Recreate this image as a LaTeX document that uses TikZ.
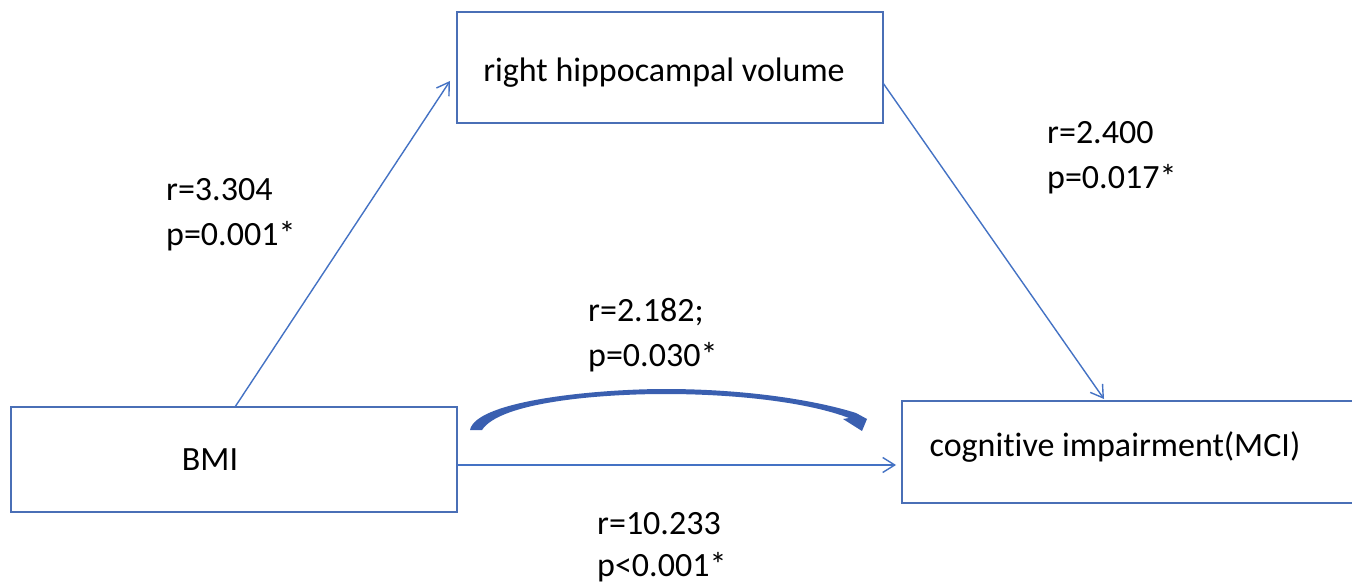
\documentclass[tikz,border=0pt]{standalone}
\usepackage{fontspec}
\setmainfont{Carlito}[Ligatures=NoCommon]
\usetikzlibrary{arrows.meta}
\definecolor{boxblue}{HTML}{4A6FB6}
\definecolor{lineblue}{HTML}{4472C4}
\definecolor{curveblue}{HTML}{3A5FB0}
\begin{document}
\begin{tikzpicture}[x=1pt,y=-1pt,
  box/.style={draw=boxblue, line width=1.9pt, inner sep=0pt},
  conn/.style={draw=lineblue, line width=1.4pt, -{Straight Barb[length=12pt,width=15pt,line width=1.4pt]}},
  stat/.style={font=\fontsize{34}{45}\selectfont, align=left, anchor=north west, inner sep=0pt},
  boxtext/.style={font=\fontsize{34}{40}\selectfont, inner sep=0pt}]
\useasboundingbox (0,0) rectangle (1352,586);
\fill[white] (0,0) rectangle (1352,586);

% the three variables
\node[box, minimum width=446pt, minimum height=105pt] (bmi) at (234,459.5) {};
\node[box, minimum width=426pt, minimum height=111pt] (hip) at (670,67.5) {};
\node[box, minimum width=460pt, minimum height=102pt] (mci) at (1132,452) {};
\node[boxtext] (bmit) at (210,460) {BMI};
\node[boxtext] (hipt) at (664,73) {right hippocampal volume};
\node[boxtext] (mcit) at (1115,447) {cognitive impairment(MCI)};

% arrow end points
\coordinate (a1s) at (235,407);
\coordinate (a1e) at (450,81);
\coordinate (a2s) at (883,83);
\coordinate (a2e) at (1104,399);
\coordinate (a3s) at (457,465);
\coordinate (a3e) at (896,465);

\draw[conn] (a1s) -- (a1e);
\draw[conn] (a2s) -- (a2e);
\draw[conn] (a3s) -- (a3e);

% bold curved arrow for the direct effect
\fill[curveblue] (470,430) .. controls (476,400) and (600,389) .. (665,389)
  .. controls (745,389) and (815,400) .. (856,413)
  -- (867,419) -- (862,431) -- (843,419) -- (849,418)
  .. controls (810,403) and (740,394) .. (665,394)
  .. controls (600,394) and (500,402) .. (482,430) -- cycle;

% path coefficients
\node[stat] (s1) at (166,178) {r=3.304\\p=0.001*};
\node[stat] (s2) at (1047,121) {r=2.400\\p=0.017*};
\node[stat] (s3) at (588,298) {r=2.182;\\p=0.030*};
\node[stat, font=\fontsize{34}{42}\selectfont] (s4) at (597,512) {r=10.233\\p<0.001*};
\end{tikzpicture}
\end{document}
